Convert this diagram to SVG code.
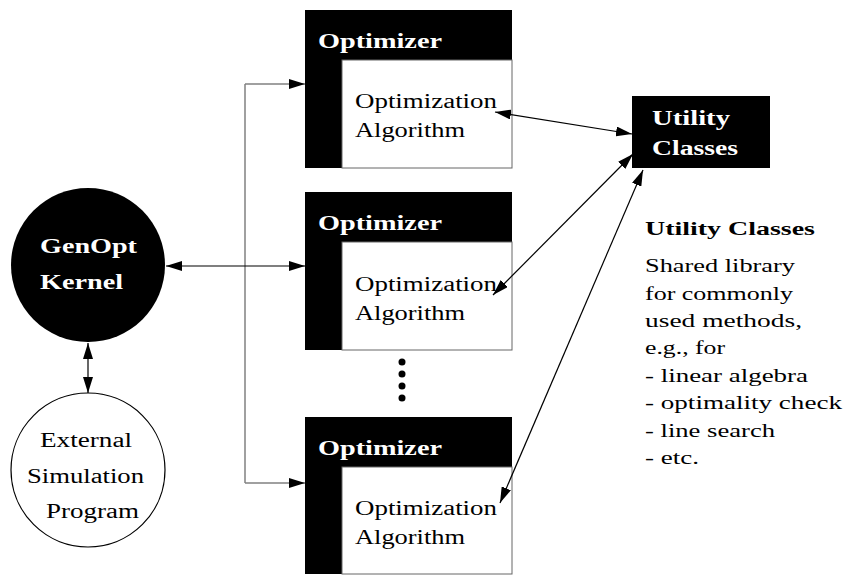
<svg xmlns="http://www.w3.org/2000/svg" width="843" height="575" viewBox="0 0 843 575" font-family="'Liberation Serif', 'Times New Roman', serif">
<style>
text{font-size:20px;fill:#000}
.w{fill:#fff}
.b{font-weight:bold}
.sm{font-size:18px}
.outer{fill:#000}
.inner{fill:#fff;stroke:#666;stroke-width:1}
.ln{stroke:#000;stroke-width:1.2;fill:none}
.gr{stroke:#808080;stroke-width:1.5;fill:none}
</style>
<defs>
<marker id="ah" viewBox="0 0 16 10" refX="16" refY="5" markerWidth="16" markerHeight="10" markerUnits="userSpaceOnUse" orient="auto-start-reverse">
<path d="M0,0 L16,5 L0,10 z" fill="#000"/>
</marker>
</defs>

<g id="kernel">
<circle cx="88" cy="265" r="77" fill="#000"/>
<text class="w b" x="40" y="253" font-size="22" textLength="97" lengthAdjust="spacingAndGlyphs">GenOpt</text>
<text class="w b" x="40" y="289" font-size="22" textLength="83" lengthAdjust="spacingAndGlyphs">Kernel</text>
</g>

<g id="external">
<circle cx="88" cy="470" r="77" fill="#fff" stroke="#000" stroke-width="1.2"/>
<text x="40" y="447" font-size="22" textLength="92" lengthAdjust="spacingAndGlyphs">External</text>
<text x="27" y="483" font-size="22" textLength="117" lengthAdjust="spacingAndGlyphs">Simulation</text>
<text x="46" y="518" font-size="22" textLength="93" lengthAdjust="spacingAndGlyphs">Program</text>
</g>

<g id="optimizer1">
<rect class="outer" x="305" y="10" width="207" height="158"/>
<rect class="inner" x="342" y="60" width="170" height="108"/>
<text class="w b" x="318" y="48" font-size="21" textLength="124" lengthAdjust="spacingAndGlyphs">Optimizer</text>
<text x="355" y="108" font-size="21" textLength="142" lengthAdjust="spacingAndGlyphs">Optimization</text>
<text x="355" y="137" font-size="21" textLength="110" lengthAdjust="spacingAndGlyphs">Algorithm</text>
</g>

<g id="optimizer2">
<rect class="outer" x="305" y="192" width="207" height="158"/>
<rect class="inner" x="342" y="242" width="170" height="108"/>
<text class="w b" x="318" y="230" font-size="21" textLength="124" lengthAdjust="spacingAndGlyphs">Optimizer</text>
<text x="355" y="291" font-size="21" textLength="142" lengthAdjust="spacingAndGlyphs">Optimization</text>
<text x="355" y="320" font-size="21" textLength="110" lengthAdjust="spacingAndGlyphs">Algorithm</text>
</g>

<g id="dots">
<circle cx="402" cy="362" r="3.5"/>
<circle cx="402" cy="374" r="3.5"/>
<circle cx="402" cy="386" r="3.5"/>
<circle cx="402" cy="398" r="3.5"/>
</g>

<g id="optimizer3">
<rect class="outer" x="305" y="417" width="207" height="157"/>
<rect class="inner" x="342" y="467" width="170" height="107"/>
<text class="w b" x="318" y="455" font-size="21" textLength="124" lengthAdjust="spacingAndGlyphs">Optimizer</text>
<text x="355" y="515" font-size="21" textLength="142" lengthAdjust="spacingAndGlyphs">Optimization</text>
<text x="355" y="544" font-size="21" textLength="110" lengthAdjust="spacingAndGlyphs">Algorithm</text>
</g>

<g id="utility">
<rect class="outer" x="632" y="96" width="138" height="72"/>
<text class="w b" x="652" y="125" font-size="22" textLength="78" lengthAdjust="spacingAndGlyphs">Utility</text>
<text class="w b" x="652" y="155" font-size="22" textLength="86" lengthAdjust="spacingAndGlyphs">Classes</text>
</g>

<g id="description">
<text class="b sm" x="645" y="235" textLength="170" lengthAdjust="spacingAndGlyphs">Utility Classes</text>
<text class="sm" x="645" y="272" textLength="150" lengthAdjust="spacingAndGlyphs">Shared library</text>
<text class="sm" x="645" y="300" textLength="148" lengthAdjust="spacingAndGlyphs">for commonly</text>
<text class="sm" x="645" y="327" textLength="157" lengthAdjust="spacingAndGlyphs">used methods,</text>
<text class="sm" x="645" y="354" textLength="80" lengthAdjust="spacingAndGlyphs">e.g., for</text>
<text class="sm" x="645" y="382" textLength="163" lengthAdjust="spacingAndGlyphs">- linear algebra</text>
<text class="sm" x="645" y="409" textLength="197" lengthAdjust="spacingAndGlyphs">- optimality check</text>
<text class="sm" x="645" y="437" textLength="130" lengthAdjust="spacingAndGlyphs">- line search</text>
<text class="sm" x="645" y="464" textLength="54" lengthAdjust="spacingAndGlyphs">- etc.</text>
</g>

<g id="connectors">
<path class="gr" d="M245,84 V483"/>
<line class="gr" x1="245" y1="84" x2="305" y2="84" marker-end="url(#ah)"/>
<line class="gr" x1="245" y1="483" x2="305" y2="483" marker-end="url(#ah)"/>
<line class="ln" x1="166" y1="266" x2="305" y2="266" marker-start="url(#ah)" marker-end="url(#ah)"/>
<line class="ln" x1="88" y1="343" x2="88" y2="393" marker-start="url(#ah)" marker-end="url(#ah)"/>
<line class="ln" x1="495" y1="112" x2="632" y2="134" marker-start="url(#ah)" marker-end="url(#ah)"/>
<line class="ln" x1="493" y1="295" x2="633" y2="154" marker-start="url(#ah)" marker-end="url(#ah)"/>
<line class="ln" x1="500" y1="503" x2="643" y2="170" marker-start="url(#ah)" marker-end="url(#ah)"/>
</g>
</svg>
